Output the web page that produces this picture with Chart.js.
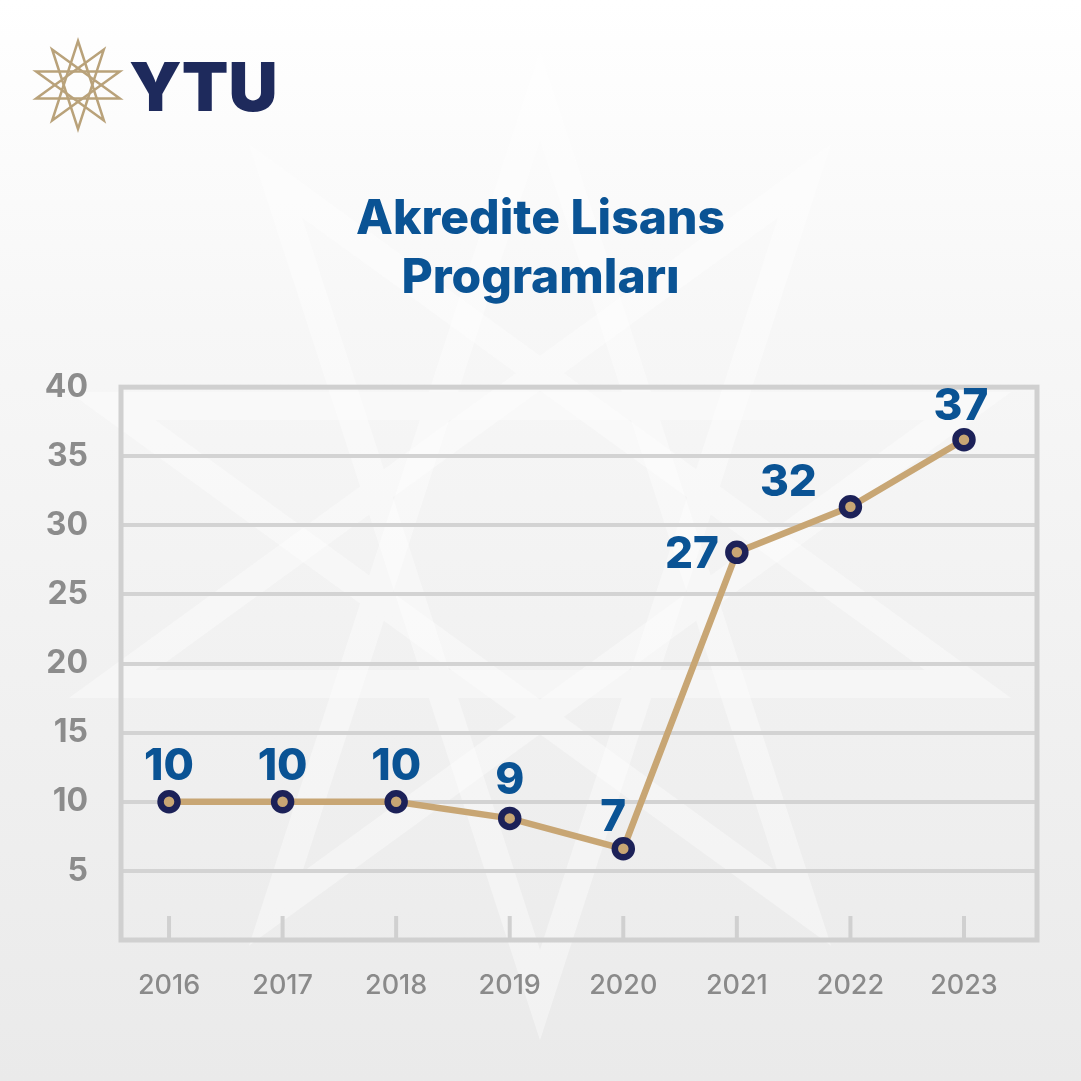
<!DOCTYPE html>
<html>
<head>
<meta charset="utf-8">
<script src="https://cdn.jsdelivr.net/npm/chart.js@4.4.1/dist/chart.umd.min.js"></script>
<style>
  html, body { margin: 0; padding: 0; background: #f3f3f3; }
  canvas { display: block; }
</style>
</head>
<body>
<canvas id="chart" width="1081" height="1081"></canvas>
<script>
// values
const years = [2016, 2017, 2018, 2019, 2020, 2021, 2022, 2023];
const plotted = [10, 10, 10, 8.8, 6.6, 28.05, 31.35, 36.2];
const shownLabels = ['10', '10', '10', '9', '7', '27', '32', '37'];
const yTicks = [5, 10, 15, 20, 25, 30, 35, 40];
const titleLines = ['Akredite Lisans', 'Programları'];

const FONT = 'Inter, "Noto Sans", sans-serif';

// 10 pointed star made of two pentagrams
function drawStar(ctx, cx, cy, r, lw, color) {
  const pts = [];
  for (let k = 0; k < 10; k++) {
    const a = (-90 + 36 * k) * Math.PI / 180;
    pts.push([cx + r * Math.cos(a), cy + r * Math.sin(a)]);
  }
  ctx.save();
  ctx.strokeStyle = color;
  ctx.lineWidth = lw;
  ctx.lineJoin = 'miter';
  for (let s = 0; s < 2; s++) {
    ctx.beginPath();
    for (let j = 0; j < 5; j++) {
      const p = pts[(s + 4 * j) % 10];
      if (j === 0) ctx.moveTo(p[0], p[1]); else ctx.lineTo(p[0], p[1]);
    }
    ctx.closePath();
    ctx.stroke();
  }
  ctx.restore();
}

const backdrop = {
  id: 'backdrop',
  beforeDraw(chart) {
    const ctx = chart.ctx;
    const w = chart.width, h = chart.height;
    ctx.save();
    const g = ctx.createLinearGradient(0, 0, 0, h);
    g.addColorStop(0, '#ffffff');
    g.addColorStop(0.3, '#f7f7f7');
    g.addColorStop(1, '#eaeaea');
    ctx.fillStyle = g;
    ctx.fillRect(0, 0, w, h);
    // faint watermark
    drawStar(ctx, 540, 545, 450, 28, 'rgba(255,255,255,0.38)');
    // logo
    drawStar(ctx, 78, 85, 44, 2.5, '#b9a27a');
    ctx.fillStyle = '#1e2a5c';
    ctx.font = '900 68px ' + FONT;
    ctx.textBaseline = 'alphabetic';
    ctx.textAlign = 'left';
    ctx.fillText('YTU', 129, 111);
    ctx.restore();
  }
};

const frame = {
  id: 'frame',
  beforeDatasetsDraw(chart) {
    const { ctx, chartArea: a, scales } = chart;
    ctx.save();
    ctx.strokeStyle = '#d0d0d0';
    ctx.lineWidth = 4;
    years.forEach(yr => {
      const x = scales.x.getPixelForValue(yr);
      ctx.beginPath();
      ctx.moveTo(x, a.bottom - 24);
      ctx.lineTo(x, a.bottom);
      ctx.stroke();
    });
    ctx.lineWidth = 5;
    ctx.strokeRect(a.left, a.top, a.right - a.left, a.bottom - a.top);
    ctx.restore();
  }
};

const valueLabels = {
  id: 'valueLabels',
  afterDatasetsDraw(chart, args, opts) {
    const ctx = chart.ctx;
    const meta = chart.getDatasetMeta(0);
    ctx.save();
    ctx.fillStyle = opts.color;
    ctx.font = opts.font;
    ctx.textBaseline = 'alphabetic';
    meta.data.forEach((pt, i) => {
      const [dx, dy, align] = opts.placement[i];
      ctx.textAlign = align;
      ctx.fillText(shownLabels[i], pt.x + dx, pt.y + dy);
    });
    ctx.restore();
  }
};

new Chart(document.getElementById('chart'), {
  type: 'line',
  data: {
    datasets: [{
      data: years.map((yr, i) => ({ x: yr, y: plotted[i] })),
      borderColor: '#c8a674',
      borderWidth: 6.5,
      pointRadius: 8.5,
      pointBorderWidth: 6.5,
      pointBackgroundColor: '#c8a674',
      pointBorderColor: '#1c2158',
      tension: 0,
      clip: false
    }]
  },
  options: {
    responsive: false,
    devicePixelRatio: 1,
    animation: false,
    events: [],
    layout: { padding: { left: 44, right: 44, top: 0, bottom: 0 } },
    plugins: {
      legend: { display: false },
      tooltip: { enabled: false },
      title: {
        display: true,
        text: titleLines,
        color: '#0a5394',
        font: { family: FONT, size: 48, weight: '800', lineHeight: 1.21 },
        padding: { top: 191, bottom: 80 }
      },
      valueLabels: {
        color: '#0a5394',
        font: '800 44px ' + FONT,
        placement: [
          [0, -22, 'center'], [0, -22, 'center'], [0, -22, 'center'],
          [0, -24, 'center'], [-10, -18, 'center'], [-18, 16, 'right'],
          [-62, -11, 'center'], [-3, -20, 'center']
        ]
      }
    },
    scales: {
      x: {
        type: 'linear',
        min: 2015.577,
        max: 2023.643,
        afterBuildTicks: s => { s.ticks = years.map(v => ({ value: v })); },
        afterFit: s => { s.height = 141; },
        ticks: {
          color: '#8a8a8a',
          font: { family: FONT, size: 27, weight: '500' },
          padding: 30,
          callback: v => String(v)
        },
        grid: { display: false, drawTicks: false },
        border: { display: false }
      },
      y: {
        min: 0,
        max: 40,
        afterBuildTicks: s => { s.ticks = [0, ...yTicks].map(v => ({ value: v })); },
        afterFit: s => { s.width = 77; },
        ticks: {
          color: '#8c8c8c',
          font: { family: FONT, size: 32, weight: '700' },
          padding: 33,
          callback: v => (v === 0 ? '' : String(v))
        },
        grid: { color: '#d3d3d3', lineWidth: 4, drawTicks: false },
        border: { display: false }
      }
    }
  },
  plugins: [backdrop, frame, valueLabels]
});
</script>
</body>
</html>
